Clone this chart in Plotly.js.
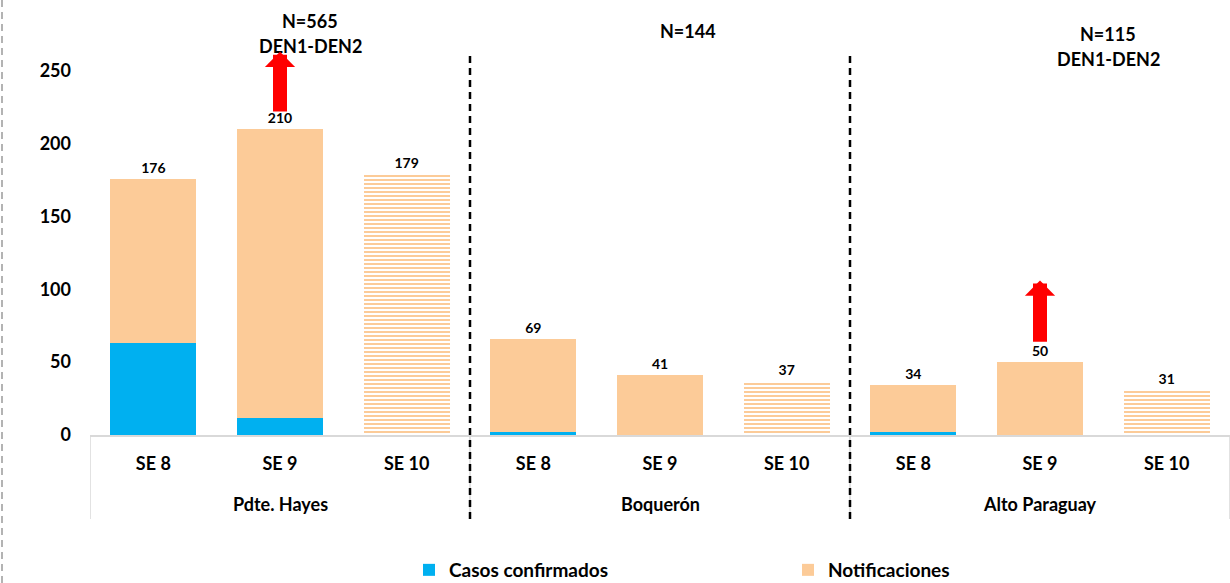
<!DOCTYPE html>
<html><head><meta charset="utf-8">
<script src="https://cdn.plot.ly/plotly-3.0.1.min.js"></script>
<style>html,body{margin:0;padding:0;background:#fff;}#chart{width:1230px;height:583px;}</style>
</head><body><div id="chart"></div>
<script>
const groups = ["Pdte. Hayes","Pdte. Hayes","Pdte. Hayes","Boquerón","Boquerón","Boquerón","Alto Paraguay","Alto Paraguay","Alto Paraguay"];
const weeks = ["SE 8","SE 9","SE 10","SE 8","SE 9","SE 10","SE 8","SE 9","SE 10"];
const confirmados = [63, 12, 0, 2, 0, 0, 2, 0, 0];
const notificaciones = [113, 198, 179, 64, 41, 37, 32, 50, 31];
const totalLabels = ["176","210","179","69","41","37","34","50","31"];
const patterns = ["", "", "-", "", "", "-", "", "", "-"];
const groupNames = ["Pdte. Hayes","Boquerón","Alto Paraguay"];
const groupN = ["N=565","N=144","N=115"];
const groupSub = ["DEN1-DEN2","","DEN1-DEN2"];
const arrowWeeks = [1, 7];
const arrowFrom = [221, 63];
const arrowTo = [263, 106];

const cats = groups.map((g,i)=>g+"|"+weeks[i]);
const FONT = "Lato, 'Open Sans', sans-serif";
const BLUE = "#00B0F0", ORANGE = "#FCCB98";

const traces = [
  {type:"bar", name:"Casos confirmados", x:cats, y:confirmados,
   marker:{color:BLUE}, hoverinfo:"skip"},
  {type:"bar", name:"Notificaciones", x:cats, y:notificaciones,
   marker:{color:ORANGE, pattern:{shape:patterns, fillmode:"replace", bgcolor:"#ffffff", size:4, solidity:0.5}},
   text:totalLabels, textposition:"outside", cliponaxis:false,
   textfont:{family:FONT, size:14, color:"#000", weight:"bold"}, hoverinfo:"skip"}
];

const H = 405, Y0 = 435, L = 90, W = 1140;
const py = p => (Y0 - p)/H;
const px = p => (p - L)/W;

const shapes = [];
[-0.5, 2.5, 5.5, 8.5].forEach(v=>{
  shapes.push({type:"line", xref:"x", yref:"paper", x0:v, x1:v, y0:0, y1:py(519), line:{color:"#D9D9D9", width:1.5}});
});
[2.5, 5.5].forEach(v=>{
  shapes.push({type:"line", xref:"x", yref:"paper", x0:v, x1:v, y0:py(519), y1:py(55), line:{color:"#000", width:2.5, dash:"7px,5px"}});
});
shapes.push({type:"line", xref:"paper", yref:"paper", x0:px(2), x1:px(2), y0:py(583), y1:py(0), line:{color:"#9a9a9a", width:1.5, dash:"7px,5px"}});

const annotations = [];
groupNames.forEach((g,i)=>{
  annotations.push({xref:"x", yref:"paper", x:cats[i*3+1], y:py(504), text:"<b>"+g+"</b>", showarrow:false,
    font:{family:FONT, size:18, color:"#000"}, xanchor:"center", yanchor:"middle"});
});
const nPos = [[310,21,46],[688,31,null],[1108,34,59]];
groupN.forEach((t,i)=>{
  annotations.push({xref:"paper", yref:"paper", x:px(nPos[i][0]), y:py(nPos[i][1]), text:"<b>"+t+"</b>", showarrow:false,
    font:{family:FONT, size:18, color:"#000"}, xanchor:"center", yanchor:"middle"});
  if (groupSub[i]) annotations.push({xref:"paper", yref:"paper", x:px(nPos[i][0]), y:py(nPos[i][2]), text:"<b>"+groupSub[i]+"</b>", showarrow:false,
    font:{family:FONT, size:18, color:"#000"}, xanchor:"center", yanchor:"middle"});
});
arrowWeeks.forEach((k,i)=>{
  annotations.push({xref:"x", yref:"y", x:cats[k], y:arrowTo[i], axref:"x", ayref:"y", ax:cats[k], ay:arrowFrom[i],
    text:"", showarrow:true, arrowhead:1, arrowsize:0.36, arrowwidth:14, arrowcolor:"#FF0000", standoff:0, startstandoff:0});
});

const layout = {
  width:1230, height:583,
  margin:{l:L, r:0, t:30, b:148, autoexpand:false},
  paper_bgcolor:"#fff", plot_bgcolor:"#fff",
  barmode:"stack", bargap:0.32,
  font:{family:FONT, size:16, color:"#000"},
  showlegend:true,
  legend:{orientation:"h", x:px(409), xanchor:"left", y:py(551), yanchor:"top",
    entrywidth:334, entrywidthmode:"pixels", font:{family:FONT, size:19, color:"#000", weight:"bold"}, traceorder:"normal"},
  xaxis:{type:"category", tickvals:cats, ticktext:weeks.map(w=>"<b>"+w+"</b>"), showline:true, linecolor:"#D9D9D9", linewidth:1.5,
    ticks:"", showgrid:false, zeroline:false, tickfont:{family:FONT, size:18, color:"#000"}, ticklabelstandoff:12, range:[-0.5, 8.5], fixedrange:true},
  yaxis:{range:[0,278], tickvals:[0,50,100,150,200,250], showgrid:false, zeroline:false, showline:false, ticks:"",
    tickfont:{family:FONT, size:18, color:"#000", weight:"bold"}, ticklabelstandoff:18},
  shapes:shapes, annotations:annotations
};
Plotly.newPlot("chart", traces, layout, {staticPlot:true});
</script></body></html>
